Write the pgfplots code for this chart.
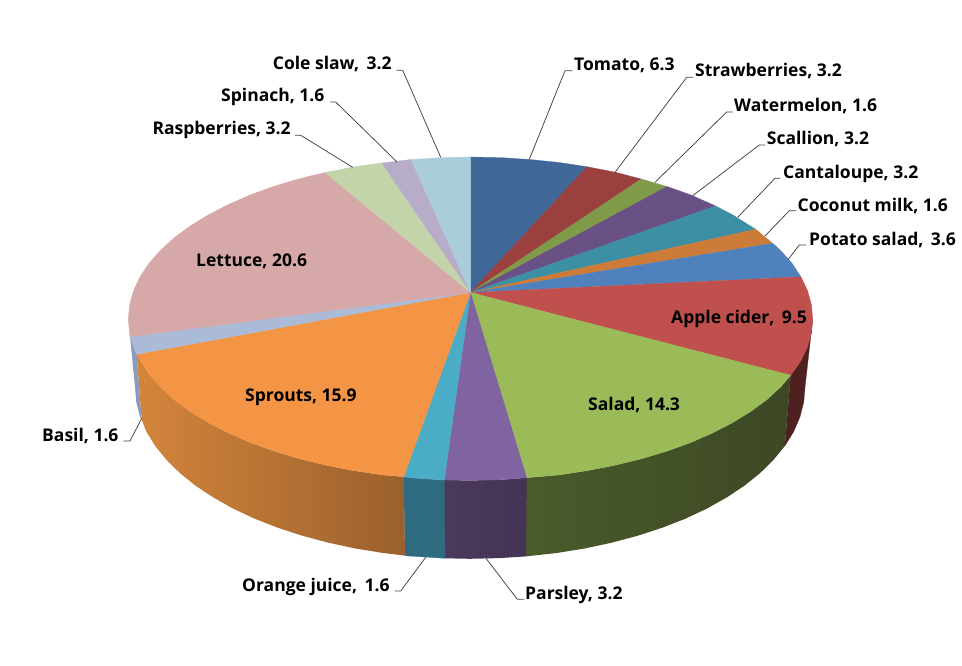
\documentclass[border=0pt]{standalone}
\usepackage{fontspec}
\setmainfont{Open Sans}
\usepackage{pgfplots}
\pgfplotsset{compat=1.18}
\definecolor{cTom}{HTML}{3F6797}
\definecolor{cStr}{HTML}{9A403E}
\definecolor{cWat}{HTML}{7F9A48}
\definecolor{cSca}{HTML}{695185}
\definecolor{cCan}{HTML}{3D8FA4}
\definecolor{cCoc}{HTML}{CC7B38}
\definecolor{cPot}{HTML}{4F81BD}
\definecolor{cApp}{HTML}{C0504D}
\definecolor{cSal}{HTML}{9BBB59}
\definecolor{cPar}{HTML}{8064A2}
\definecolor{cOra}{HTML}{4BACC6}
\definecolor{cSpr}{HTML}{F49545}
\definecolor{cBas}{HTML}{AABAD7}
\definecolor{cLet}{HTML}{D7A8A8}
\definecolor{cRas}{HTML}{C4D4AA}
\definecolor{cSpi}{HTML}{B8ADC9}
\definecolor{cCol}{HTML}{A9CDDA}
\definecolor{cLead}{HTML}{404040}
\definecolor{HTMLBas}{HTML}{8A9BBD}
\definecolor{HTMLApp}{HTML}{4F2020}
\definecolor{HTMLSalL}{HTML}{4A5B2B}
\definecolor{HTMLSalR}{HTML}{3D4825}
\definecolor{HTMLParL}{HTML}{4B3A5C}
\definecolor{HTMLParR}{HTML}{433355}
\definecolor{HTMLOra}{HTML}{2F6B80}
\definecolor{HTMLSprL}{HTML}{D4853B}
\definecolor{HTMLSprR}{HTML}{9A602D}
\pgfplotsset{
  sl/.style={fill=#1,draw=#1,line width=0.25pt,no marks},
  ld/.style={draw=cLead,line width=0.75pt,no marks,sharp plot}
}
\newcommand{\lab}[3]{\node[anchor=base west,inner sep=0pt,font=\fontsize{17.5bp}{20bp}\selectfont\bfseries,text=black] at (axis cs:#1,#2) {#3};}
\begin{document}
\begin{tikzpicture}
\useasboundingbox (0,0) rectangle (962bp,666bp);
\begin{axis}[scale only axis,width=962bp,height=666bp,xmin=0,xmax=962,ymin=0,ymax=666,y dir=reverse,hide axis,clip=false,anchor=south west,at={(0,0)}]
% ---- side wall ----
% Basil wall
\addplot[no marks,fill=HTMLBas,draw=none] coordinates {(128.3,318.7)(129.6,332.8)(130,336.7)(136.7,354.3)(141.7,420)(140.1,417.1)(136.3,402.2)(135,387.3)(128.3,318.7)};
% Apple cider wall
\addplot[sl=HTMLApp] coordinates {(812.7,318.7)(811.4,332.8)(807.5,346.8)(801.0,360.6)(790.7,375.3)(784.8,446.0)(793.6,431.7)(799.9,417.1)(803.7,402.2)(805,387.3)(812.7,318.7)};
% Salad wall
\addplot[no marks,left color=HTMLSalL,right color=HTMLSalR,draw=none] coordinates {(790.7,375.3)(780.6,387.0)(766.9,399.6)(750.8,411.4)(732.6,422.6)(712.5,433.0)(690.5,442.6)(666.8,451.2)(641.6,458.7)(615.1,465.2)(587.5,470.6)(559.1,474.9)(526.7,477.7)(526,556.4)(556.7,553.0)(584.6,548.5)(611.6,542.7)(637.5,535.8)(662.1,527.8)(685.3,518.7)(706.9,508.6)(726.6,497.5)(744.4,485.7)(760.1,473.1)(773.6,459.8)(784.8,446.0)(790.7,375.3)};
% Parsley wall
\addplot[no marks,left color=HTMLParL,right color=HTMLParR,draw=none] coordinates {(526.7,477.7)(500.3,479.8)(470.5,480.4)(444.3,480)(445,558.3)(470,558.8)(499.2,558.1)(526,556.4)(526.7,477.7)};
% Orange juice wall
\addplot[sl=HTMLOra] coordinates {(444.3,480)(411.1,477.9)(403.7,476.7)(405,555.6)(411.8,556.2)(445,558.3)(444.3,480)};
% Sprouts wall
\addplot[no marks,left color=HTMLSprL,right color=HTMLSprR,draw=none] coordinates {(403.7,476.7)(381.9,474.9)(353.5,470.6)(325.9,465.2)(299.4,458.7)(274.2,451.2)(250.5,442.6)(228.5,433.0)(208.4,422.6)(190.2,411.4)(174.1,399.6)(160.4,387.0)(148.9,374.0)(136.7,354.3)(141.7,420)(146.4,431.7)(155.2,446.0)(166.4,459.8)(179.9,473.1)(195.6,485.7)(213.4,497.5)(233.1,508.6)(254.7,518.7)(277.9,527.8)(302.5,535.8)(328.4,542.7)(355.4,548.5)(383.3,553.0)(405,555.6)(403.7,476.7)};
% ---- top face: one polygon for each slice ----
% Tomato 6.3
\addplot[sl=cTom] coordinates {(470.5,292.5)(470.5,157.0)(500.3,157.6)(529.9,159.5)(559.1,162.5)(587.0,166.7)(470.5,292.5)};
% Strawberries 3.2
\addplot[sl=cStr] coordinates {(470.5,292.5)(587.0,166.7)(615.1,172.2)(641.3,179.0)(470.5,292.5)};
% Watermelon 1.6
\addplot[sl=cWat] coordinates {(470.5,292.5)(641.3,179.0)(667.0,186.5)(470.5,292.5)};
% Scallion 3.2
\addplot[sl=cSca] coordinates {(470.5,292.5)(667.0,186.5)(690.5,194.8)(715.7,206.0)(470.5,292.5)};
% Cantaloupe 3.2
\addplot[sl=cCan] coordinates {(470.5,292.5)(715.7,206.0)(732.6,214.8)(755.7,229.3)(470.5,292.5)};
% Coconut milk 1.6
\addplot[sl=cCoc] coordinates {(470.5,292.5)(755.7,229.3)(772.7,243.3)(470.5,292.5)};
% Potato salad 3.6
\addplot[sl=cPot] coordinates {(470.5,292.5)(772.7,243.3)(780.6,250.4)(792.1,263.4)(801.0,276.8)(470.5,292.5)};
% Apple cider 9.5
\addplot[sl=cApp] coordinates {(470.5,292.5)(801.0,276.8)(807.5,290.6)(811.4,304.6)(812.7,318.7)(811.4,332.8)(807.5,346.8)(801.0,360.6)(790.7,375.3)(470.5,292.5)};
% Salad 14.3
\addplot[sl=cSal] coordinates {(470.5,292.5)(790.7,375.3)(780.6,387.0)(766.9,399.6)(750.8,411.4)(732.6,422.6)(712.5,433.0)(690.5,442.6)(666.8,451.2)(641.6,458.7)(615.1,465.2)(587.5,470.6)(559.1,474.9)(526.7,477.7)(470.5,292.5)};
% Parsley 3.2
\addplot[sl=cPar] coordinates {(470.5,292.5)(526.7,477.7)(500.3,479.8)(470.5,480.4)(444.3,480.0)(470.5,292.5)};
% Orange juice 1.6
\addplot[sl=cOra] coordinates {(470.5,292.5)(444.3,480.0)(411.1,477.9)(403.7,476.7)(470.5,292.5)};
% Sprouts 15.9
\addplot[sl=cSpr] coordinates {(470.5,292.5)(403.7,476.7)(381.9,474.9)(353.5,470.6)(325.9,465.2)(299.4,458.7)(274.2,451.2)(250.5,442.6)(228.5,433.0)(208.4,422.6)(190.2,411.4)(174.1,399.6)(160.4,387.0)(148.9,374.0)(136.7,354.3)(470.5,292.5)};
% Basil 1.6
\addplot[sl=cBas] coordinates {(470.5,292.5)(136.7,354.3)(133.5,346.8)(130.0,336.7)(470.5,292.5)};
% Lettuce 20.6
\addplot[sl=cLet] coordinates {(470.5,292.5)(130.0,336.7)(128.3,318.7)(129.6,304.6)(133.5,290.6)(140.0,276.8)(148.9,263.4)(160.4,250.4)(174.1,237.8)(190.2,226.0)(208.4,214.8)(228.5,204.4)(250.5,194.8)(274.2,186.2)(299.4,178.7)(325.0,172.5)(470.5,292.5)};
% Raspberries 3.2
\addplot[sl=cRas] coordinates {(470.5,292.5)(325.0,172.5)(353.5,166.8)(381.7,163.0)(470.5,292.5)};
% Spinach 1.6
\addplot[sl=cSpi] coordinates {(470.5,292.5)(381.7,163.0)(411.0,159.5)(470.5,292.5)};
% Cole slaw 3.2
\addplot[sl=cCol] coordinates {(470.5,292.5)(411.0,159.5)(440.7,157.6)(470.5,157.0)(470.5,292.5)};
% ---- leader lines ----
\addplot[ld] coordinates {(529.3,159.3)(565,70.7)(572.3,70.7)};
\addplot[ld] coordinates {(615,172.3)(686.7,77.3)(693.3,77.3)};
\addplot[ld] coordinates {(655,182.3)(726.7,112)(732.7,112)};
\addplot[ld] coordinates {(692.7,195.7)(759.3,145)(765,145)};
\addplot[ld] coordinates {(737.7,217.3)(775,178.3)(780.7,178.3)};
\addplot[ld] coordinates {(765,236)(789.3,210.7)(796,210.7)};
\addplot[ld] coordinates {(788.3,259.3)(799.3,245)(806,245)};
\addplot[ld] coordinates {(486,558.3)(517.3,599.3)(524,599.3)};
\addplot[ld] coordinates {(425.7,557.3)(400.7,591)(395,591)};
\addplot[ld] coordinates {(141.7,418.3)(130,441)(123.3,441)};
\addplot[ld] coordinates {(352.7,167.3)(300.7,135.3)(295,135.3)};
\addplot[ld] coordinates {(396.7,161.7)(335.7,102)(330,102)};
\addplot[ld] coordinates {(440.7,157.3)(402.7,70.3)(396.7,70.3)};
% ---- labels ----
\lab{574}{70.7}{Tomato, 6.3}
\lab{695}{77}{Strawberries, 3.2}
\lab{734}{111.7}{Watermelon, 1.6}
\lab{766.7}{144.5}{Scallion, 3.2}
\lab{783}{178}{Cantaloupe, 3.2}
\lab{797.5}{211}{Coconut milk, 1.6}
\lab{809}{245}{Potato salad,\, 3.6}
\lab{671}{323}{Apple cider,\, 9.5}
\lab{588}{410}{Salad, 14.3}
\lab{525}{599}{Parsley, 3.2}
\lab{242}{591}{Orange juice,\, 1.6}
\lab{245}{401}{Sprouts, 15.9}
\lab{42}{441}{Basil, 1.6}
\lab{196}{266.7}{Lettuce, 20.6}
\lab{152.3}{135}{Raspberries, 3.2}
\lab{221}{101.7}{Spinach, 1.6}
\lab{272.7}{70}{Cole slaw,\, 3.2}
\end{axis}
\end{tikzpicture}
\end{document}
